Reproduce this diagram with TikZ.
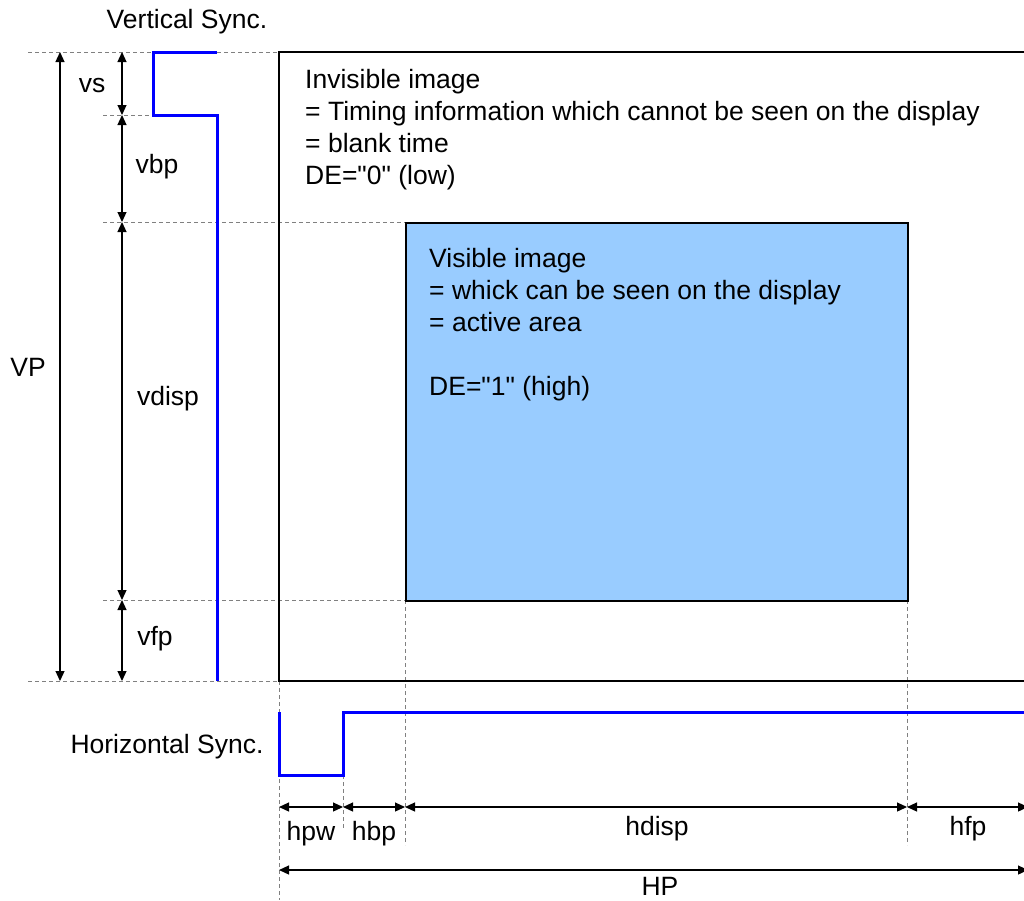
\documentclass[tikz,border=0pt]{standalone}
\usepackage{fontspec}
\setmainfont{Liberation Sans}
\usepackage{xcolor}
\usetikzlibrary{arrows.meta,positioning,calc}
\definecolor{visblue}{RGB}{153,204,255}

\begin{document}
\begin{tikzpicture}[x=1pt, y=-1pt,
    guide/.style={draw=black!50, line width=0.7pt, dash pattern=on 4pt off 3pt},
    dim/.style={{Triangle[length=10pt,width=9pt]}-{Triangle[length=10pt,width=9pt]}, line width=1.2pt},
    sync/.style={draw=blue, line width=3pt},
    frame/.style={draw=black, line width=1.5pt},
    lbl/.style={font=\fontsize{26.5}{32}\selectfont, inner sep=0pt, anchor=base},
    txt/.style={font=\fontsize{26.5}{32}\selectfont, inner sep=0pt, align=left, anchor=north west}
]
\useasboundingbox (0,0) rectangle (1024,900);
\clip (0,0) rectangle (1024,900);

% reference points
\foreach \n/\y in {0/52,1/115,2/222,3/600,4/681} {
    \coordinate (v\n) at (122,\y);
}
\coordinate (vp0) at (60,52);
\coordinate (vp1) at (60,681);
\foreach \n/\x in {0/279,1/343,2/405,3/907,4/1028} {
    \coordinate (h\n) at (\x,807);
}
\coordinate (hp0) at (279,870);
\coordinate (hp1) at (1028,870);

% guides
\draw[guide] (28,52) -- (279,52);
\draw[guide] (103,115) -- (153,115);
\draw[guide] (103,222) -- (405,222);
\draw[guide] (103,600) -- (405,600);
\draw[guide] (28,681) -- (279,681);
\draw[guide] (279,681) -- (279,900);
\draw[guide] (343,775) -- (343,828);
\draw[guide] (405,600) -- (405,845);
\draw[guide] (907,600) -- (907,845);

% frame = whole period
\draw[frame] (1030,52) -- (279,52) -- (279,681) -- (1030,681);
\node[frame, fill=visblue, anchor=north west, inner sep=0pt,
      minimum width=502pt, minimum height=378pt] (vis) at (405,222) {};

% sync signals
\draw[sync] (217,52) -- (153,52) -- (153,115) -- (217,115) -- (217,681);
\draw[sync] (279,712) -- (279,775) -- (343,775) -- (343,712) -- (1030,712);

% vertical dimensions
\draw[dim] (vp0) -- (vp1);
\draw[dim] (v0) -- (v1);
\draw[dim] (v1) -- (v2);
\draw[dim] (v2) -- (v3);
\draw[dim] (v3) -- (v4);

% horizontal dimensions
\draw[dim] (h0) -- (h1);
\draw[dim] (h1) -- (h2);
\draw[dim] (h2) -- (h3);
\draw[dim] (h3) -- (h4);
\draw[dim] (hp0) -- (hp1);

% labels
\node[lbl] (vsync) at (187,28) {Vertical Sync.};
\node[lbl] (vslbl) at (92,92) {vs};
\node[lbl] (vbplbl) at (157,173) {vbp};
\node[lbl] (vdisplbl) at (168,405) {vdisp};
\node[lbl] (vfplbl) at (155,645) {vfp};
\node[lbl] (vplbl) at (28,376) {VP};
\node[lbl] (hsync) at (167,753) {Horizontal Sync.};
\node[lbl] (hpwlbl) at (311,840) {hpw};
\node[lbl] (hbplbl) at (374,840) {hbp};
\node[lbl] (hdisplbl) at (657,835) {hdisp};
\node[lbl] (hfplbl) at (968,835) {hfp};
\node[lbl] (hplbl) at (660,895) {HP};

% area texts
\node[txt] (invtxt) at (305,69) {Invisible image\\
    = Timing information which cannot be seen on the display\\
    = blank time\\
    DE=\textquotedbl0\textquotedbl{} (low)};
\node[txt] (vistxt) at (429,248) {Visible image\\
    = whick can be seen on the display\\
    = active area\\[32pt]
    DE=\textquotedbl1\textquotedbl{} (high)};
\end{tikzpicture}
\end{document}
